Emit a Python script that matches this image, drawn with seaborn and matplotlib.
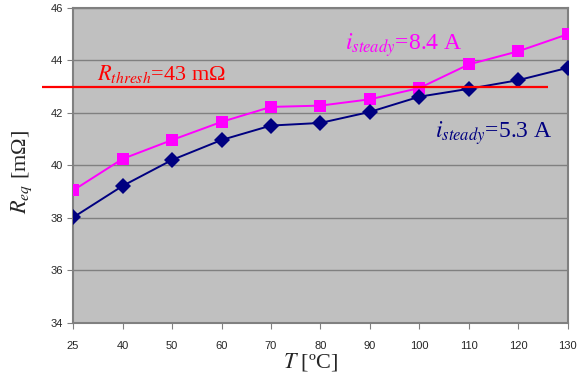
import seaborn as sns
import numpy as np
import pandas as pd
import matplotlib.pyplot as plt

temps = ['25', '40', '50', '60', '70', '80', '90', '100', '110', '120', '130']
r_84 = [39.05, 40.25, 40.97, 41.66, 42.23, 42.28, 42.52, 42.95, 43.85, 44.35, 45.0]
r_53 = [38.02, 39.22, 40.21, 40.97, 41.52, 41.62, 42.04, 42.62, 42.92, 43.25, 43.72]
r_thresh = 43

df = pd.DataFrame({
    'T': temps * 2,
    'R': r_84 + r_53,
    'i': ['8.4 A'] * len(temps) + ['5.3 A'] * len(temps),
})

sns.set_style('ticks')
plt.rcParams['font.family'] = ['Liberation Sans', 'DejaVu Sans']
plt.rcParams['mathtext.fontset'] = 'stix'

fig = plt.figure(figsize=(5.8, 3.78), dpi=100)
ax = fig.add_axes([0.126, 0.1455, 0.853, 0.8335])
ax.set_facecolor('#c0c0c0')

sns.lineplot(data=df, x='T', y='R', hue='i', style='i',
             palette={'8.4 A': '#ff00ff', '5.3 A': '#000080'},
             markers={'8.4 A': 's', '5.3 A': 'D'}, dashes=False,
             markersize=8, markeredgewidth=0, linewidth=1.4,
             legend=False, ax=ax, zorder=3)

# threshold line, sticks out past the left edge like the original
ax.hlines(r_thresh, -0.63, 9.6, color='#ff0000', linewidth=1.6,
          clip_on=False, zorder=4)

ax.set_xlim(0, len(temps) - 1)
ax.set_ylim(34, 46)
ax.set_yticks(np.arange(34, 47, 2))
ax.grid(axis='y', color='#808080', linewidth=1)
ax.set_axisbelow(True)
for s in ax.spines.values():
    s.set_color('#808080')
    s.set_linewidth(1.5)
ax.tick_params(axis='both', labelsize=8, length=4, color='#808080')
ax.tick_params(axis='x', pad=9)
ax.tick_params(axis='y', pad=3)

serif = ['Liberation Serif', 'DejaVu Serif']
ax.set_xlabel('$T$ [ºC]', fontsize=16, family=serif)
ax.xaxis.set_label_coords(0.48, -0.09)
ax.set_ylabel('$R_{eq}$ [mΩ]', fontsize=16, family=serif)
ax.yaxis.set_label_coords(-0.08, 0.48)

ax.text(0.48, 43.26, '$R_{thresh}$=43 mΩ', color='#ff0000', fontsize=16,
        family=serif, va='baseline')
ax.text(5.5, 44.4, '$i_{steady}$=8.4 A', color='#ff00ff', fontsize=17,
        family=serif, va='baseline')
ax.text(7.31, 41.05, '$i_{steady}$=5.3 A', color='#000080', fontsize=17,
        family=serif, va='baseline')

plt.savefig('out.png', dpi=100)
